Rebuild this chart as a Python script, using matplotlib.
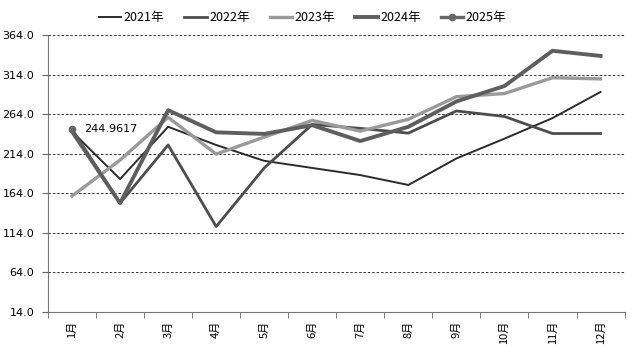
import numpy as np
import matplotlib.pyplot as plt

plt.rcParams['font.family'] = ['Noto Sans CJK SC', 'DejaVu Sans']

months = ["1月", "2月", "3月", "4月", "5月", "6月", "7月", "8月", "9月", "10月", "11月", "12月"]
y2021 = [242, 182, 248, 225, 205, 196, 187, 174.5, 208, 233, 259, 292]
y2022 = [245, 151.5, 225, 122, 196, 251, 246, 240, 268, 261, 239.5, 239.5]
y2023 = [160.5, 206, 260, 213.5, 235, 256, 242.5, 257.5, 286, 290, 310, 308.5]
y2024 = [242, 151.5, 269, 241, 239, 250, 230, 248, 280, 299.5, 344, 337.5]
y2025 = [244.9617]
yticks = [14.0, 64.0, 114.0, 164.0, 214.0, 264.0, 314.0, 364.0]

fig = plt.figure(figsize=(6.35, 3.53), dpi=100)
ax = fig.add_axes([0.0756, 0.116, 0.908, 0.785])

x = np.arange(1, 13)
ax.plot(x, y2021, color="#2b2b2b", lw=1.4, label="2021年")
ax.plot(x, y2022, color="#4d4d4d", lw=2.0, label="2022年")
ax.plot(x, y2023, color="#9a9a9a", lw=2.4, label="2023年")
ax.plot(x, y2024, color="#5e5e5e", lw=2.8, label="2024年")
ax.plot(x[:len(y2025)], y2025, color="#666666", lw=2.4, marker="o", ms=4.5, label="2025年")
ax.text(1.25, y2025[0], "%.4f" % y2025[0], fontsize=8, va="center", family=["DejaVu Sans"])

ax.set_xlim(0.5, 12.5)
ax.set_ylim(14, 364)
ax.set_yticks(yticks)
ax.set_yticklabels(["%.1f" % v for v in yticks], fontsize=8, family=["DejaVu Sans"])
ax.set_xticks(x)
ax.set_xticklabels(months, rotation=90, fontsize=8)
ax.set_xticks(np.arange(0.5, 13.0, 1.0), minor=True)
ax.tick_params(axis="x", which="major", length=0, pad=6)
ax.tick_params(axis="x", which="minor", length=4, color="#666666")
ax.tick_params(axis="y", length=4, color="#666666", pad=6)

for v in yticks[1:]:
    ax.axhline(v, color="#333333", lw=0.7, ls=(0, (2.5, 2)), zorder=0)

for s in ["top", "right"]:
    ax.spines[s].set_visible(False)
for s in ["left", "bottom"]:
    ax.spines[s].set_color("#777777")

fig.legend(loc="upper center", bbox_to_anchor=(0.476, 1.0), ncol=5, frameon=False,
           fontsize=9, handlelength=1.8, handletextpad=0.2, columnspacing=1.6)

fig.savefig("out.png", dpi=100)
